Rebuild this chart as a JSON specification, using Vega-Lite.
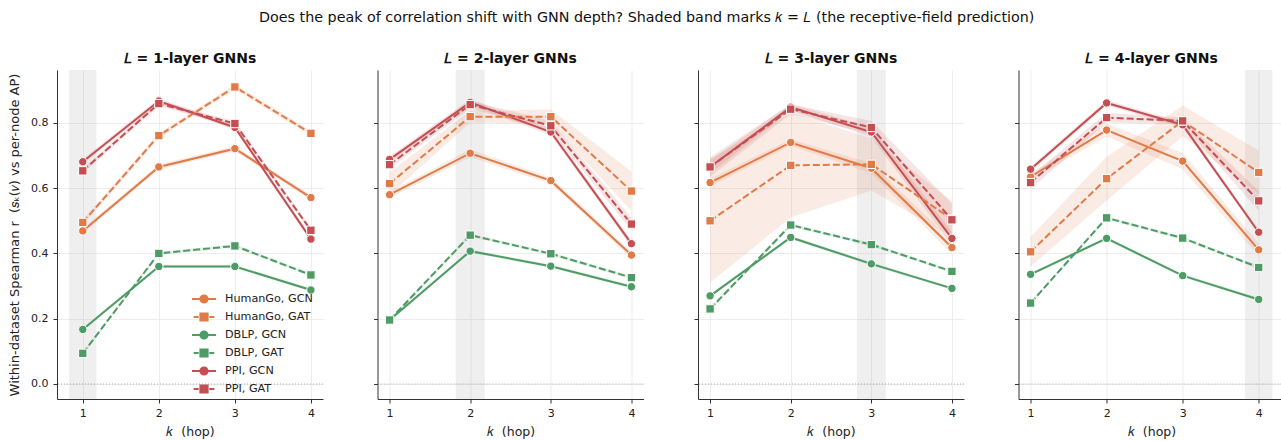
{
  "$schema": "https://vega.github.io/schema/vega-lite/v6.json",
  "padding": {"left": 8, "top": 10, "right": 0, "bottom": 4},
  "config": {
    "font": "DejaVu Sans",
    "view": {"stroke": null},
    "axis": {"domainColor": "#333333", "domainWidth": 1, "tickColor": "#333333", "tickSize": 4, "tickWidth": 1,
             "labelFontSize": 11, "labelColor": "#222222", "titleFontSize": 12.5, "titleFontWeight": "normal",
             "titleColor": "#222222", "gridColor": "#e8e8e8", "gridWidth": 0.8},
    "legend": {"labelFontSize": 11.2, "labelColor": "#222222"}
  },
  "title": {"text": "Does the peak of correlation shift with GNN depth? Shaded band marks 𝑘 = 𝐿 (the receptive-field prediction)",
            "fontSize": 14.3, "fontWeight": "normal", "color": "#111111", "anchor": "middle", "offset": 27},
  "datasets": {
    "vb": [{"L": 1, "lo": 0.82, "hi": 1.18}, {"L": 2, "lo": 1.82, "hi": 2.18}, {"L": 3, "lo": 2.82, "hi": 3.18}, {"L": 4, "lo": 3.82, "hi": 4.18}],
    "zero": [{"z": 0}],
    "d": [
      {"L":1,"series":"HumanGo, GCN","k":1,"r":0.469,"lo":0.461,"hi":0.477},
      {"L":1,"series":"HumanGo, GCN","k":2,"r":0.665,"lo":0.657,"hi":0.673},
      {"L":1,"series":"HumanGo, GCN","k":3,"r":0.721,"lo":0.713,"hi":0.729},
      {"L":1,"series":"HumanGo, GCN","k":4,"r":0.571,"lo":0.563,"hi":0.579},
      {"L":1,"series":"HumanGo, GAT","k":1,"r":0.495,"lo":0.487,"hi":0.503},
      {"L":1,"series":"HumanGo, GAT","k":2,"r":0.761,"lo":0.753,"hi":0.769},
      {"L":1,"series":"HumanGo, GAT","k":3,"r":0.910,"lo":0.902,"hi":0.918},
      {"L":1,"series":"HumanGo, GAT","k":4,"r":0.768,"lo":0.760,"hi":0.776},
      {"L":1,"series":"DBLP, GCN","k":1,"r":0.167,"lo":0.162,"hi":0.172},
      {"L":1,"series":"DBLP, GCN","k":2,"r":0.360,"lo":0.355,"hi":0.365},
      {"L":1,"series":"DBLP, GCN","k":3,"r":0.360,"lo":0.355,"hi":0.365},
      {"L":1,"series":"DBLP, GCN","k":4,"r":0.288,"lo":0.283,"hi":0.293},
      {"L":1,"series":"DBLP, GAT","k":1,"r":0.094,"lo":0.089,"hi":0.099},
      {"L":1,"series":"DBLP, GAT","k":2,"r":0.400,"lo":0.395,"hi":0.405},
      {"L":1,"series":"DBLP, GAT","k":3,"r":0.423,"lo":0.418,"hi":0.428},
      {"L":1,"series":"DBLP, GAT","k":4,"r":0.334,"lo":0.329,"hi":0.339},
      {"L":1,"series":"PPI, GCN","k":1,"r":0.681,"lo":0.673,"hi":0.689},
      {"L":1,"series":"PPI, GCN","k":2,"r":0.867,"lo":0.859,"hi":0.875},
      {"L":1,"series":"PPI, GCN","k":3,"r":0.786,"lo":0.778,"hi":0.794},
      {"L":1,"series":"PPI, GCN","k":4,"r":0.444,"lo":0.436,"hi":0.452},
      {"L":1,"series":"PPI, GAT","k":1,"r":0.653,"lo":0.645,"hi":0.661},
      {"L":1,"series":"PPI, GAT","k":2,"r":0.859,"lo":0.851,"hi":0.867},
      {"L":1,"series":"PPI, GAT","k":3,"r":0.798,"lo":0.790,"hi":0.806},
      {"L":1,"series":"PPI, GAT","k":4,"r":0.471,"lo":0.463,"hi":0.479},

      {"L":2,"series":"HumanGo, GCN","k":1,"r":0.580,"lo":0.570,"hi":0.590},
      {"L":2,"series":"HumanGo, GCN","k":2,"r":0.707,"lo":0.695,"hi":0.719},
      {"L":2,"series":"HumanGo, GCN","k":3,"r":0.623,"lo":0.613,"hi":0.633},
      {"L":2,"series":"HumanGo, GCN","k":4,"r":0.395,"lo":0.385,"hi":0.405},
      {"L":2,"series":"HumanGo, GAT","k":1,"r":0.614,"lo":0.579,"hi":0.649},
      {"L":2,"series":"HumanGo, GAT","k":2,"r":0.819,"lo":0.801,"hi":0.837},
      {"L":2,"series":"HumanGo, GAT","k":3,"r":0.819,"lo":0.797,"hi":0.841},
      {"L":2,"series":"HumanGo, GAT","k":4,"r":0.591,"lo":0.531,"hi":0.651},
      {"L":2,"series":"DBLP, GCN","k":1,"r":0.196,"lo":0.191,"hi":0.201},
      {"L":2,"series":"DBLP, GCN","k":2,"r":0.407,"lo":0.402,"hi":0.412},
      {"L":2,"series":"DBLP, GCN","k":3,"r":0.361,"lo":0.356,"hi":0.366},
      {"L":2,"series":"DBLP, GCN","k":4,"r":0.298,"lo":0.293,"hi":0.303},
      {"L":2,"series":"DBLP, GAT","k":1,"r":0.196,"lo":0.191,"hi":0.201},
      {"L":2,"series":"DBLP, GAT","k":2,"r":0.456,"lo":0.451,"hi":0.461},
      {"L":2,"series":"DBLP, GAT","k":3,"r":0.399,"lo":0.394,"hi":0.404},
      {"L":2,"series":"DBLP, GAT","k":4,"r":0.326,"lo":0.321,"hi":0.331},
      {"L":2,"series":"PPI, GCN","k":1,"r":0.688,"lo":0.678,"hi":0.698},
      {"L":2,"series":"PPI, GCN","k":2,"r":0.863,"lo":0.853,"hi":0.873},
      {"L":2,"series":"PPI, GCN","k":3,"r":0.772,"lo":0.762,"hi":0.782},
      {"L":2,"series":"PPI, GCN","k":4,"r":0.430,"lo":0.420,"hi":0.440},
      {"L":2,"series":"PPI, GAT","k":1,"r":0.672,"lo":0.660,"hi":0.684},
      {"L":2,"series":"PPI, GAT","k":2,"r":0.856,"lo":0.844,"hi":0.868},
      {"L":2,"series":"PPI, GAT","k":3,"r":0.791,"lo":0.776,"hi":0.806},
      {"L":2,"series":"PPI, GAT","k":4,"r":0.490,"lo":0.470,"hi":0.510},

      {"L":3,"series":"HumanGo, GCN","k":1,"r":0.617,"lo":0.605,"hi":0.629},
      {"L":3,"series":"HumanGo, GCN","k":2,"r":0.740,"lo":0.730,"hi":0.750},
      {"L":3,"series":"HumanGo, GCN","k":3,"r":0.661,"lo":0.646,"hi":0.676},
      {"L":3,"series":"HumanGo, GCN","k":4,"r":0.418,"lo":0.398,"hi":0.438},
      {"L":3,"series":"HumanGo, GAT","k":1,"r":0.500,"lo":0.310,"hi":0.690},
      {"L":3,"series":"HumanGo, GAT","k":2,"r":0.670,"lo":0.510,"hi":0.830},
      {"L":3,"series":"HumanGo, GAT","k":3,"r":0.673,"lo":0.593,"hi":0.753},
      {"L":3,"series":"HumanGo, GAT","k":4,"r":0.505,"lo":0.450,"hi":0.560},
      {"L":3,"series":"DBLP, GCN","k":1,"r":0.270,"lo":0.265,"hi":0.275},
      {"L":3,"series":"DBLP, GCN","k":2,"r":0.449,"lo":0.444,"hi":0.454},
      {"L":3,"series":"DBLP, GCN","k":3,"r":0.368,"lo":0.363,"hi":0.373},
      {"L":3,"series":"DBLP, GCN","k":4,"r":0.293,"lo":0.288,"hi":0.298},
      {"L":3,"series":"DBLP, GAT","k":1,"r":0.230,"lo":0.225,"hi":0.235},
      {"L":3,"series":"DBLP, GAT","k":2,"r":0.487,"lo":0.482,"hi":0.492},
      {"L":3,"series":"DBLP, GAT","k":3,"r":0.427,"lo":0.422,"hi":0.432},
      {"L":3,"series":"DBLP, GAT","k":4,"r":0.345,"lo":0.340,"hi":0.350},
      {"L":3,"series":"PPI, GCN","k":1,"r":0.665,"lo":0.645,"hi":0.685},
      {"L":3,"series":"PPI, GCN","k":2,"r":0.848,"lo":0.838,"hi":0.858},
      {"L":3,"series":"PPI, GCN","k":3,"r":0.772,"lo":0.757,"hi":0.787},
      {"L":3,"series":"PPI, GCN","k":4,"r":0.446,"lo":0.426,"hi":0.466},
      {"L":3,"series":"PPI, GAT","k":1,"r":0.665,"lo":0.635,"hi":0.695},
      {"L":3,"series":"PPI, GAT","k":2,"r":0.842,"lo":0.827,"hi":0.857},
      {"L":3,"series":"PPI, GAT","k":3,"r":0.786,"lo":0.766,"hi":0.806},
      {"L":3,"series":"PPI, GAT","k":4,"r":0.503,"lo":0.453,"hi":0.553},

      {"L":4,"series":"HumanGo, GCN","k":1,"r":0.635,"lo":0.625,"hi":0.645},
      {"L":4,"series":"HumanGo, GCN","k":2,"r":0.778,"lo":0.758,"hi":0.798},
      {"L":4,"series":"HumanGo, GCN","k":3,"r":0.683,"lo":0.658,"hi":0.708},
      {"L":4,"series":"HumanGo, GCN","k":4,"r":0.411,"lo":0.391,"hi":0.431},
      {"L":4,"series":"HumanGo, GAT","k":1,"r":0.405,"lo":0.360,"hi":0.450},
      {"L":4,"series":"HumanGo, GAT","k":2,"r":0.629,"lo":0.562,"hi":0.696},
      {"L":4,"series":"HumanGo, GAT","k":3,"r":0.806,"lo":0.759,"hi":0.853},
      {"L":4,"series":"HumanGo, GAT","k":4,"r":0.648,"lo":0.581,"hi":0.715},
      {"L":4,"series":"DBLP, GCN","k":1,"r":0.336,"lo":0.331,"hi":0.341},
      {"L":4,"series":"DBLP, GCN","k":2,"r":0.446,"lo":0.441,"hi":0.451},
      {"L":4,"series":"DBLP, GCN","k":3,"r":0.332,"lo":0.327,"hi":0.337},
      {"L":4,"series":"DBLP, GCN","k":4,"r":0.259,"lo":0.254,"hi":0.264},
      {"L":4,"series":"DBLP, GAT","k":1,"r":0.248,"lo":0.243,"hi":0.253},
      {"L":4,"series":"DBLP, GAT","k":2,"r":0.509,"lo":0.504,"hi":0.514},
      {"L":4,"series":"DBLP, GAT","k":3,"r":0.447,"lo":0.442,"hi":0.452},
      {"L":4,"series":"DBLP, GAT","k":4,"r":0.357,"lo":0.352,"hi":0.362},
      {"L":4,"series":"PPI, GCN","k":1,"r":0.658,"lo":0.650,"hi":0.666},
      {"L":4,"series":"PPI, GCN","k":2,"r":0.861,"lo":0.853,"hi":0.869},
      {"L":4,"series":"PPI, GCN","k":3,"r":0.794,"lo":0.786,"hi":0.802},
      {"L":4,"series":"PPI, GCN","k":4,"r":0.465,"lo":0.457,"hi":0.473},
      {"L":4,"series":"PPI, GAT","k":1,"r":0.617,"lo":0.597,"hi":0.637},
      {"L":4,"series":"PPI, GAT","k":2,"r":0.816,"lo":0.801,"hi":0.831},
      {"L":4,"series":"PPI, GAT","k":3,"r":0.806,"lo":0.796,"hi":0.816},
      {"L":4,"series":"PPI, GAT","k":4,"r":0.561,"lo":0.531,"hi":0.591}
    ]
  },
  "spacing": 48.5,
  "hconcat": [
    {
      "width": 266, "height": 329,
      "title": {"text": "𝐿 = 1-layer GNNs", "fontSize": 14, "fontWeight": "bold", "color": "#111111", "offset": 4},
      "layer": [
        {"data": {"name": "vb"}, "transform": [{"filter": "datum.L == 1"}],
         "mark": {"type": "rect", "fill": "#b0b0b0", "opacity": 0.2},
         "encoding": {"x": {"field": "lo", "type": "quantitative", "title": "𝑘\u00a0\u00a0(hop)", "scale": {"domain": [0.661, 4.159], "nice": false, "zero": false},
                            "axis": {"values": [1, 2, 3, 4], "format": "d", "labelPadding": 4, "titlePadding": 7}},
                      "x2": {"field": "hi"}}},
        {"data": {"name": "zero"},
         "mark": {"type": "rule", "color": "#999999", "strokeWidth": 0.8, "strokeDash": [1, 2]},
         "encoding": {"y": {"field": "z", "type": "quantitative", "title": "Within-dataset Spearman r\u00a0\u00a0(𝑠ₖ(𝑣) vs per-node AP)",
                            "scale": {"domain": [-0.046, 0.962], "nice": false, "zero": false},
                            "axis": {"values": [0, 0.2, 0.4, 0.6, 0.8], "format": ".1f", "labelPadding": 5, "titlePadding": 9, "titleFontSize": 13}}}},
        {"data": {"name": "d"}, "transform": [{"filter": "datum.L == 1"}],
         "mark": {"type": "area", "opacity": 0.15},
         "encoding": {"x": {"field": "k", "type": "quantitative", "title": "𝑘\u00a0\u00a0(hop)"},
                      "y": {"field": "lo", "type": "quantitative", "title": "Within-dataset Spearman r\u00a0\u00a0(𝑠ₖ(𝑣) vs per-node AP)"},
                      "y2": {"field": "hi"},
                      "color": {"field": "series", "type": "nominal",
                                "scale": {"domain": ["HumanGo, GCN", "HumanGo, GAT", "DBLP, GCN", "DBLP, GAT", "PPI, GCN", "PPI, GAT"],
                                          "range": ["#e07b48", "#e07b48", "#4e9b65", "#4e9b65", "#c44e52", "#c44e52"]},
                                "legend": {"title": null, "orient": "none", "legendX": 140, "legendY": 222, "symbolSize": 144,
                                           "symbolStrokeWidth": 2, "symbolOpacity": 1, "rowPadding": 2, "labelOffset": 14, "padding": 0}},
                      "detail": {"field": "series"}}},
        {"data": {"name": "d"}, "transform": [{"filter": "datum.L == 1 && indexof(datum.series, 'GCN') >= 0"}],
         "mark": {"type": "line", "strokeWidth": 2},
         "encoding": {"x": {"field": "k", "type": "quantitative", "title": "𝑘\u00a0\u00a0(hop)"},
                      "y": {"field": "r", "type": "quantitative", "title": "Within-dataset Spearman r\u00a0\u00a0(𝑠ₖ(𝑣) vs per-node AP)"},
                      "color": {"field": "series", "type": "nominal"}}},
        {"data": {"name": "d"}, "transform": [{"filter": "datum.L == 1 && indexof(datum.series, 'GAT') >= 0"}],
         "mark": {"type": "line", "strokeWidth": 2, "strokeDash": [7, 3]},
         "encoding": {"x": {"field": "k", "type": "quantitative", "title": "𝑘\u00a0\u00a0(hop)"},
                      "y": {"field": "r", "type": "quantitative", "title": "Within-dataset Spearman r\u00a0\u00a0(𝑠ₖ(𝑣) vs per-node AP)"},
                      "color": {"field": "series", "type": "nominal"}}},
        {"data": {"name": "d"}, "transform": [{"filter": "datum.L == 1 && indexof(datum.series, 'GCN') >= 0"}],
         "mark": {"type": "point", "shape": "circle", "filled": true, "opacity": 1, "size": 70, "stroke": "white", "strokeWidth": 1},
         "encoding": {"x": {"field": "k", "type": "quantitative", "title": "𝑘\u00a0\u00a0(hop)"},
                      "y": {"field": "r", "type": "quantitative", "title": "Within-dataset Spearman r\u00a0\u00a0(𝑠ₖ(𝑣) vs per-node AP)"},
                      "color": {"field": "series", "type": "nominal"}}},
        {"data": {"name": "d"}, "transform": [{"filter": "datum.L == 1 && indexof(datum.series, 'GAT') >= 0"}],
         "mark": {"type": "point", "shape": "square", "filled": true, "opacity": 1, "size": 70, "stroke": "white", "strokeWidth": 1},
         "encoding": {"x": {"field": "k", "type": "quantitative", "title": "𝑘\u00a0\u00a0(hop)"},
                      "y": {"field": "r", "type": "quantitative", "title": "Within-dataset Spearman r\u00a0\u00a0(𝑠ₖ(𝑣) vs per-node AP)"},
                      "color": {"field": "series", "type": "nominal"}}},
        {"data": {"name": "d"}, "transform": [{"filter": "datum.L == 1"}],
         "mark": {"type": "point", "filled": true, "opacity": 0, "size": 10},
         "encoding": {"x": {"field": "k", "type": "quantitative", "title": "𝑘\u00a0\u00a0(hop)"},
                      "y": {"field": "r", "type": "quantitative", "title": "Within-dataset Spearman r\u00a0\u00a0(𝑠ₖ(𝑣) vs per-node AP)"},
                      "color": {"field": "series", "type": "nominal"},
                      "shape": {"field": "series", "type": "nominal",
                                "scale": {"domain": ["HumanGo, GCN", "HumanGo, GAT", "DBLP, GCN", "DBLP, GAT", "PPI, GCN", "PPI, GAT"],
                                          "range": ["M-2,0H-0.6M0.6,0H2M0.6,0A0.6,0.6,0,1,1,-0.6,0A0.6,0.6,0,1,1,0.6,0Z",
                                                    "M-1.72,0H-0.88M0.88,0H1.72M-0.6,-0.6H0.6V0.6H-0.6Z",
                                                    "M-2,0H-0.6M0.6,0H2M0.6,0A0.6,0.6,0,1,1,-0.6,0A0.6,0.6,0,1,1,0.6,0Z",
                                                    "M-1.72,0H-0.88M0.88,0H1.72M-0.6,-0.6H0.6V0.6H-0.6Z",
                                                    "M-2,0H-0.6M0.6,0H2M0.6,0A0.6,0.6,0,1,1,-0.6,0A0.6,0.6,0,1,1,0.6,0Z",
                                                    "M-1.72,0H-0.88M0.88,0H1.72M-0.6,-0.6H0.6V0.6H-0.6Z"]}}}}
      ]
    },
    {
      "width": 266, "height": 329,
      "title": {"text": "𝐿 = 2-layer GNNs", "fontSize": 14, "fontWeight": "bold", "color": "#111111", "offset": 4},
      "layer": [
        {"data": {"name": "vb"}, "transform": [{"filter": "datum.L == 2"}],
         "mark": {"type": "rect", "fill": "#b0b0b0", "opacity": 0.2},
         "encoding": {"x": {"field": "lo", "type": "quantitative", "title": "𝑘\u00a0\u00a0(hop)", "scale": {"domain": [0.85, 4.15], "nice": false, "zero": false},
                            "axis": {"values": [1, 2, 3, 4], "format": "d", "labelPadding": 4, "titlePadding": 7}},
                      "x2": {"field": "hi"}}},
        {"data": {"name": "zero"},
         "mark": {"type": "rule", "color": "#999999", "strokeWidth": 0.8, "strokeDash": [1, 2]},
         "encoding": {"y": {"field": "z", "type": "quantitative", "title": null,
                            "scale": {"domain": [-0.046, 0.962], "nice": false, "zero": false},
                            "axis": {"values": [0, 0.2, 0.4, 0.6, 0.8], "labels": false, "title": null}}}},
        {"data": {"name": "d"}, "transform": [{"filter": "datum.L == 2"}],
         "mark": {"type": "area", "opacity": 0.15},
         "encoding": {"x": {"field": "k", "type": "quantitative", "title": "𝑘\u00a0\u00a0(hop)"},
                      "y": {"field": "lo", "type": "quantitative", "title": null},
                      "y2": {"field": "hi"},
                      "color": {"field": "series", "type": "nominal"},
                      "detail": {"field": "series"}}},
        {"data": {"name": "d"}, "transform": [{"filter": "datum.L == 2 && indexof(datum.series, 'GCN') >= 0"}],
         "mark": {"type": "line", "strokeWidth": 2},
         "encoding": {"x": {"field": "k", "type": "quantitative", "title": "𝑘\u00a0\u00a0(hop)"},
                      "y": {"field": "r", "type": "quantitative", "title": null},
                      "color": {"field": "series", "type": "nominal"}}},
        {"data": {"name": "d"}, "transform": [{"filter": "datum.L == 2 && indexof(datum.series, 'GAT') >= 0"}],
         "mark": {"type": "line", "strokeWidth": 2, "strokeDash": [7, 3]},
         "encoding": {"x": {"field": "k", "type": "quantitative", "title": "𝑘\u00a0\u00a0(hop)"},
                      "y": {"field": "r", "type": "quantitative", "title": null},
                      "color": {"field": "series", "type": "nominal"}}},
        {"data": {"name": "d"}, "transform": [{"filter": "datum.L == 2 && indexof(datum.series, 'GCN') >= 0"}],
         "mark": {"type": "point", "shape": "circle", "filled": true, "opacity": 1, "size": 70, "stroke": "white", "strokeWidth": 1},
         "encoding": {"x": {"field": "k", "type": "quantitative", "title": "𝑘\u00a0\u00a0(hop)"},
                      "y": {"field": "r", "type": "quantitative", "title": null},
                      "color": {"field": "series", "type": "nominal"}}},
        {"data": {"name": "d"}, "transform": [{"filter": "datum.L == 2 && indexof(datum.series, 'GAT') >= 0"}],
         "mark": {"type": "point", "shape": "square", "filled": true, "opacity": 1, "size": 70, "stroke": "white", "strokeWidth": 1},
         "encoding": {"x": {"field": "k", "type": "quantitative", "title": "𝑘\u00a0\u00a0(hop)"},
                      "y": {"field": "r", "type": "quantitative", "title": null},
                      "color": {"field": "series", "type": "nominal"}}}
      ]
    },
    {
      "width": 266, "height": 329,
      "title": {"text": "𝐿 = 3-layer GNNs", "fontSize": 14, "fontWeight": "bold", "color": "#111111", "offset": 4},
      "layer": [
        {"data": {"name": "vb"}, "transform": [{"filter": "datum.L == 3"}],
         "mark": {"type": "rect", "fill": "#b0b0b0", "opacity": 0.2},
         "encoding": {"x": {"field": "lo", "type": "quantitative", "title": "𝑘\u00a0\u00a0(hop)", "scale": {"domain": [0.85, 4.15], "nice": false, "zero": false},
                            "axis": {"values": [1, 2, 3, 4], "format": "d", "labelPadding": 4, "titlePadding": 7}},
                      "x2": {"field": "hi"}}},
        {"data": {"name": "zero"},
         "mark": {"type": "rule", "color": "#999999", "strokeWidth": 0.8, "strokeDash": [1, 2]},
         "encoding": {"y": {"field": "z", "type": "quantitative", "title": null,
                            "scale": {"domain": [-0.046, 0.962], "nice": false, "zero": false},
                            "axis": {"values": [0, 0.2, 0.4, 0.6, 0.8], "labels": false, "title": null}}}},
        {"data": {"name": "d"}, "transform": [{"filter": "datum.L == 3"}],
         "mark": {"type": "area", "opacity": 0.15},
         "encoding": {"x": {"field": "k", "type": "quantitative", "title": "𝑘\u00a0\u00a0(hop)"},
                      "y": {"field": "lo", "type": "quantitative", "title": null},
                      "y2": {"field": "hi"},
                      "color": {"field": "series", "type": "nominal"},
                      "detail": {"field": "series"}}},
        {"data": {"name": "d"}, "transform": [{"filter": "datum.L == 3 && indexof(datum.series, 'GCN') >= 0"}],
         "mark": {"type": "line", "strokeWidth": 2},
         "encoding": {"x": {"field": "k", "type": "quantitative", "title": "𝑘\u00a0\u00a0(hop)"},
                      "y": {"field": "r", "type": "quantitative", "title": null},
                      "color": {"field": "series", "type": "nominal"}}},
        {"data": {"name": "d"}, "transform": [{"filter": "datum.L == 3 && indexof(datum.series, 'GAT') >= 0"}],
         "mark": {"type": "line", "strokeWidth": 2, "strokeDash": [7, 3]},
         "encoding": {"x": {"field": "k", "type": "quantitative", "title": "𝑘\u00a0\u00a0(hop)"},
                      "y": {"field": "r", "type": "quantitative", "title": null},
                      "color": {"field": "series", "type": "nominal"}}},
        {"data": {"name": "d"}, "transform": [{"filter": "datum.L == 3 && indexof(datum.series, 'GCN') >= 0"}],
         "mark": {"type": "point", "shape": "circle", "filled": true, "opacity": 1, "size": 70, "stroke": "white", "strokeWidth": 1},
         "encoding": {"x": {"field": "k", "type": "quantitative", "title": "𝑘\u00a0\u00a0(hop)"},
                      "y": {"field": "r", "type": "quantitative", "title": null},
                      "color": {"field": "series", "type": "nominal"}}},
        {"data": {"name": "d"}, "transform": [{"filter": "datum.L == 3 && indexof(datum.series, 'GAT') >= 0"}],
         "mark": {"type": "point", "shape": "square", "filled": true, "opacity": 1, "size": 70, "stroke": "white", "strokeWidth": 1},
         "encoding": {"x": {"field": "k", "type": "quantitative", "title": "𝑘\u00a0\u00a0(hop)"},
                      "y": {"field": "r", "type": "quantitative", "title": null},
                      "color": {"field": "series", "type": "nominal"}}}
      ]
    },
    {
      "width": 266, "height": 329,
      "title": {"text": "𝐿 = 4-layer GNNs", "fontSize": 14, "fontWeight": "bold", "color": "#111111", "offset": 4},
      "layer": [
        {"data": {"name": "vb"}, "transform": [{"filter": "datum.L == 4"}],
         "mark": {"type": "rect", "fill": "#b0b0b0", "opacity": 0.2},
         "encoding": {"x": {"field": "lo", "type": "quantitative", "title": "𝑘\u00a0\u00a0(hop)", "scale": {"domain": [0.841, 4.339], "nice": false, "zero": false},
                            "axis": {"values": [1, 2, 3, 4], "format": "d", "labelPadding": 4, "titlePadding": 7}},
                      "x2": {"field": "hi"}}},
        {"data": {"name": "zero"},
         "mark": {"type": "rule", "color": "#999999", "strokeWidth": 0.8, "strokeDash": [1, 2]},
         "encoding": {"y": {"field": "z", "type": "quantitative", "title": null,
                            "scale": {"domain": [-0.046, 0.962], "nice": false, "zero": false},
                            "axis": {"values": [0, 0.2, 0.4, 0.6, 0.8], "labels": false, "title": null}}}},
        {"data": {"name": "d"}, "transform": [{"filter": "datum.L == 4"}],
         "mark": {"type": "area", "opacity": 0.15},
         "encoding": {"x": {"field": "k", "type": "quantitative", "title": "𝑘\u00a0\u00a0(hop)"},
                      "y": {"field": "lo", "type": "quantitative", "title": null},
                      "y2": {"field": "hi"},
                      "color": {"field": "series", "type": "nominal"},
                      "detail": {"field": "series"}}},
        {"data": {"name": "d"}, "transform": [{"filter": "datum.L == 4 && indexof(datum.series, 'GCN') >= 0"}],
         "mark": {"type": "line", "strokeWidth": 2},
         "encoding": {"x": {"field": "k", "type": "quantitative", "title": "𝑘\u00a0\u00a0(hop)"},
                      "y": {"field": "r", "type": "quantitative", "title": null},
                      "color": {"field": "series", "type": "nominal"}}},
        {"data": {"name": "d"}, "transform": [{"filter": "datum.L == 4 && indexof(datum.series, 'GAT') >= 0"}],
         "mark": {"type": "line", "strokeWidth": 2, "strokeDash": [7, 3]},
         "encoding": {"x": {"field": "k", "type": "quantitative", "title": "𝑘\u00a0\u00a0(hop)"},
                      "y": {"field": "r", "type": "quantitative", "title": null},
                      "color": {"field": "series", "type": "nominal"}}},
        {"data": {"name": "d"}, "transform": [{"filter": "datum.L == 4 && indexof(datum.series, 'GCN') >= 0"}],
         "mark": {"type": "point", "shape": "circle", "filled": true, "opacity": 1, "size": 70, "stroke": "white", "strokeWidth": 1},
         "encoding": {"x": {"field": "k", "type": "quantitative", "title": "𝑘\u00a0\u00a0(hop)"},
                      "y": {"field": "r", "type": "quantitative", "title": null},
                      "color": {"field": "series", "type": "nominal"}}},
        {"data": {"name": "d"}, "transform": [{"filter": "datum.L == 4 && indexof(datum.series, 'GAT') >= 0"}],
         "mark": {"type": "point", "shape": "square", "filled": true, "opacity": 1, "size": 70, "stroke": "white", "strokeWidth": 1},
         "encoding": {"x": {"field": "k", "type": "quantitative", "title": "𝑘\u00a0\u00a0(hop)"},
                      "y": {"field": "r", "type": "quantitative", "title": null},
                      "color": {"field": "series", "type": "nominal"}}}
      ]
    }
  ]
}
